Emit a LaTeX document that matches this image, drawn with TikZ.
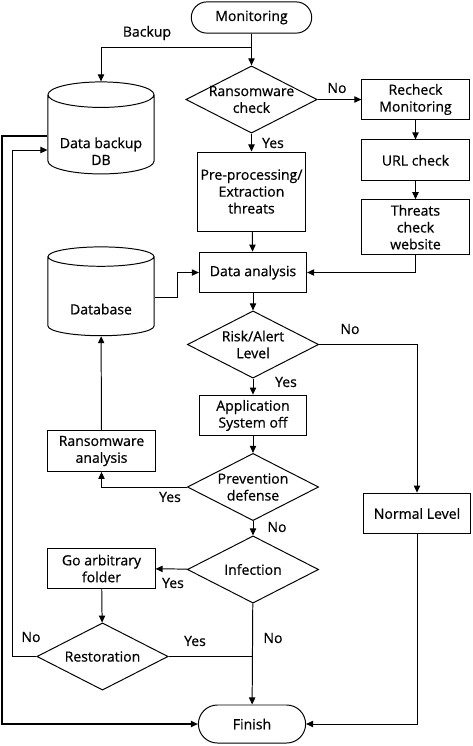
\documentclass[tikz,border=0pt]{standalone}
\usepackage{fontspec}
\setmainfont{Open Sans}[FakeBold=0.6]
\usetikzlibrary{positioning}
\usetikzlibrary{shapes.geometric,shapes.misc}
\usetikzlibrary{arrows.meta}

\tikzset{
  base/.style={draw, line width=0.7pt, align=center, inner sep=1pt},
  proc/.style={base, rectangle, minimum width=2.68cm, minimum height=1.02cm},
  decision/.style={base, diamond, aspect=1.95, minimum width=3.28cm, minimum height=1.68cm, inner sep=-3pt},
  term/.style={base, rounded rectangle, minimum width=3.08cm, minimum height=0.78cm},
  store/.style={base, cylinder, shape border rotate=90, aspect=0.3, minimum width=2.65cm, minimum height=2.3cm},
  dbtext/.style 2 args={label={[align=center, yshift=#2]center:#1}},
  lbl/.style={inner sep=1pt},
  flow/.style={line width=0.7pt, -{Triangle[length=5pt,width=4.5pt]}},
  wire/.style={line width=0.7pt},
}

\begin{document}
\begin{tikzpicture}[x=0.025cm,y=0.025cm]
        \useasboundingbox (0,0) rectangle (473,-746);
        % Nodes
        \node[term]     (mon)   at (251.5,-17.5)  {Monitoring};
        \node[decision] (rchk)  at (251.5,-99.5)  {Ransomware\\check};
        \node[proc]     (rechk) at (415.5,-99.5)  {Recheck\\Monitoring};
        \node[proc, below=0.475cm of rechk] (url)  {URL check};
        \node[proc, below=0.45cm of url, minimum height=1.375cm] (site) {Threats\\check\\website};
        \node[proc, minimum height=1.975cm] (prep) at (251.5,-191.5) {Pre-processing/\\Extraction\\threats};
        \node[store, dbtext={Data backup\\DB}{-0.38cm}] (bkdb) at (101,-136) {\phantom{Data backup}\\\phantom{DB}};

        \node[proc]     (anal)  at (253,-272.5)   {Data analysis};
        \node[store, minimum height=2.22cm, dbtext={Database}{-0.29cm}] (db) at (101,-297.5) {\phantom{Database}};
        \node[decision] (risk)  at (253,-344.5)   {Risk/Alert\\Level};
        \node[proc]     (off)   at (253,-415.5)   {Application\\System off};
        \node[decision] (prev)  at (253,-487)     {Prevention\\defense};
        \node[proc]     (rana)  at (101.5,-451)   {Ransomware\\analysis};
        \node[proc]     (norm)  at (417,-513.5)   {Normal Level};

        \node[decision] (inf)   at (253,-569.5)   {Infection};
        \node[proc]     (goarb) at (101.5,-568.5) {Go arbitrary\\folder};
        \node[decision] (rest)  at (102.5,-656.5) {Restoration};
        \node[term, minimum width=2.75cm, minimum height=0.95cm] (fin) at (252,-724) {Finish};

        \coordinate (split) at (251.5,-47);

        % Labels
        \node[lbl] (lbackup) at (147,-33)  {Backup};
        \node[lbl] (lno1)    at (337,-88)  {No};
        \node[lbl] (lyes1)   at (273,-143) {Yes};
        \node[lbl] (lno2)    at (350,-329) {No};
        \node[lbl] (lyes2)   at (286,-382) {Yes};
        \node[lbl] (lyes3)   at (170,-497) {Yes};
        \node[lbl] (lno3)    at (277,-527) {No};
        \node[lbl] (lyes4)   at (173,-583) {Yes};
        \node[lbl] (lno4)    at (31,-637)  {No};
        \node[lbl] (lyes5)   at (195,-641) {Yes};
        \node[lbl] (lno5)    at (273,-638) {No};

        % Edges
        \draw[wire] (mon) -- (split);
        \draw[flow] (split) -- (rchk);
        \draw[flow] (split) -| (bkdb);
        \draw[flow] (rchk) -- (rechk);
        \draw[flow] (rchk) -- (prep);
        \draw[flow] (rechk) -- (url);
        \draw[flow] (url) -- (site);
        \draw[flow] (prep) -- (anal);
        \draw[flow] (site) |- (anal);
        \draw[flow] (db.east) -- ++(23,0) |- (anal.west);
        \draw[flow] (anal) -- (risk);
        \draw[flow] (risk) -| (norm);
        \draw[flow] (risk) -- (off);
        \draw[flow] (off) -- (prev);
        \draw[flow] (prev) -| (rana);
        \draw[flow] (rana) -- (db);
        \draw[flow] (prev) -- (inf);
        \draw[flow] (inf) -- (goarb);
        \draw[flow] (goarb) -- (rest);
        \draw[flow] (inf) -- (fin);
        \draw[wire] (rest) -- (rest -| fin);
        \draw[flow] (rest.west) -- ++(-24,0) |- ([yshift=-0.35cm]bkdb.west);
        \draw[flow, line width=1pt] (bkdb.west) -- ++(-45.5,0) |- (fin);
        \draw[flow] (norm) |- (fin);
    \end{tikzpicture}
\end{document}
